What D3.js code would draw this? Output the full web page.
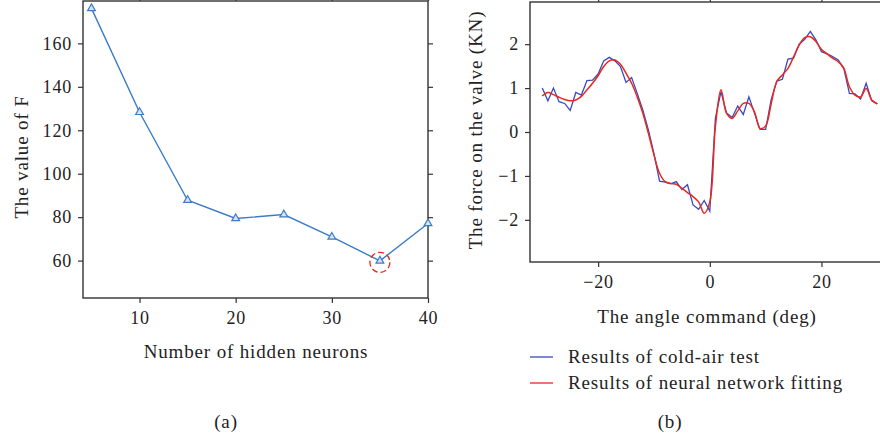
<!DOCTYPE html>
<html>
<head>
<meta charset="utf-8">
<script src="https://cdn.jsdelivr.net/npm/d3@7"></script>
<style>
    body { margin: 0; background: #fff; }
    .frame { fill: none; stroke: #333; stroke-width: 1.4; }
    .tick line { stroke: #333; stroke-width: 1.2; }
    .domain { display: none; }
</style>
</head>
<body>
<svg id="chart" width="880" height="440"></svg>
<script>
// (a) number of hidden neurons vs value of F
var neurons = [5, 10, 15, 20, 25, 30, 35, 40];
var fValues = [176.1, 128.3, 87.8, 79.4, 81.2, 70.9, 59.9, 77.1];
var neuronTicks = [10, 20, 30, 40];
var fTicks = [60, 80, 100, 120, 140, 160];

// (b) force on the valve vs angle command
var angles = d3.range(-30, 31); // -30 ... 30 deg, one sample per degree
var coldAir = [1.00, 0.71, 1.00, 0.69, 0.65, 0.49, 0.90, 0.84, 1.17, 1.18,
               1.32, 1.62, 1.70, 1.62, 1.49, 1.13, 1.24, 0.88, 0.50, 0.05,
               -0.49, -1.12, -1.14, -1.18, -1.13, -1.31, -1.20, -1.66, -1.76, -1.56,
               -1.80, 0.31, 0.92, 0.43, 0.33, 0.59, 0.40, 0.80, 0.43, 0.06,
               0.06, 0.74, 1.16, 1.20, 1.66, 1.68, 2.00, 2.11, 2.29, 2.10,
               1.83, 1.78, 1.72, 1.64, 1.45, 0.88, 0.87, 0.75, 1.11, 0.71,
               0.64];
var nnFit = [0.82, 0.90, 0.85, 0.79, 0.74, 0.71, 0.73, 0.81, 0.96, 1.11,
             1.28, 1.49, 1.62, 1.64, 1.54, 1.34, 1.11, 0.80, 0.43, -0.03,
             -0.52, -0.94, -1.13, -1.17, -1.19, -1.28, -1.38, -1.47, -1.59, -1.85,
             -1.59, 0.12, 0.96, 0.43, 0.31, 0.48, 0.65, 0.65, 0.46, 0.08,
             0.14, 0.65, 1.15, 1.30, 1.45, 1.71, 1.98, 2.15, 2.17, 2.06,
             1.88, 1.78, 1.68, 1.60, 1.45, 1.03, 0.84, 0.80, 0.99, 0.73,
             0.64];
var angleTicks = [-20, 0, 20];
var forceTicks = [-2, -1, 0, 1, 2];
var legendNames = ["Results of cold-air test", "Results of neural network fitting"];
var legendColors = ["#3b48c0", "#e8281e"];

var svg = d3.select("#chart");
var fmt = function(d){ return d < 0 ? "\u2212" + Math.abs(d) : "" + d; };

/**
 * Draws the frame with outward ticks on all four sides
 */
function drawFrame(g, x, y, xTicks, yTicks){
    var x0 = x.range()[0], x1 = x.range()[1];
    var y0 = y.range()[0], y1 = y.range()[1];

    g.append("g").attr("class", "ticklabels").attr("transform", "translate(0," + y0 + ")")
        .call(d3.axisBottom(x).tickValues(xTicks).tickSize(5).tickPadding(8).tickFormat(fmt));
    g.append("g").attr("transform", "translate(0," + y1 + ")")
        .call(d3.axisTop(x).tickValues(xTicks).tickSize(5).tickFormat(""));
    g.append("g").attr("class", "ticklabels").attr("transform", "translate(" + x0 + ",0)")
        .call(d3.axisLeft(y).tickValues(yTicks).tickSize(5).tickPadding(6).tickFormat(fmt));
    g.append("g").attr("transform", "translate(" + x1 + ",0)")
        .call(d3.axisRight(y).tickValues(yTicks).tickSize(5).tickFormat(""));

    g.append("rect").attr("class", "frame")
        .attr("x", x0).attr("y", y1)
        .attr("width", x1 - x0).attr("height", y0 - y1);
}

// ---------- chart (a) ----------
var xa = d3.scaleLinear().domain([4.12, 40]).range([83, 428]);
var ya = d3.scaleLinear().domain([42.8, 179.5]).range([298, 1]);
var ga = svg.append("g");
drawFrame(ga, xa, ya, neuronTicks, fTicks);

var lineA = d3.line().x(function(d, i){ return xa(neurons[i]); }).y(function(d){ return ya(d); });
ga.append("path").datum(fValues).attr("d", lineA)
    .attr("fill", "none").attr("stroke", "#3a7cc8").attr("stroke-width", 1.4);

ga.selectAll(".marker").data(fValues).enter().append("path")
    .attr("class", "marker")
    .attr("d", d3.symbol().type(d3.symbolTriangle).size(26))
    .attr("transform", function(d, i){ return "translate(" + xa(neurons[i]) + "," + ya(d) + ")"; })
    .attr("fill", "#d6e4f5").attr("stroke", "#3a7cc8").attr("stroke-width", 1.2);

// minimum highlighted by a dashed circle
var minIdx = d3.minIndex(fValues);
ga.append("circle")
    .attr("cx", xa(neurons[minIdx])).attr("cy", ya(fValues[minIdx]) + 1.5).attr("r", 10)
    .attr("fill", "none").attr("stroke", "#e8281e").attr("stroke-width", 1.3)
    .attr("stroke-dasharray", "6,3");

ga.append("text").attr("class", "label").text("The value of F")
    .attr("transform", "translate(28,157) rotate(-90)").attr("text-anchor", "middle");
ga.append("text").attr("class", "label").text("Number of hidden neurons")
    .attr("x", 256).attr("y", 358).attr("text-anchor", "middle");
ga.append("text").attr("class", "label").text("(a)")
    .attr("x", 226).attr("y", 428).attr("text-anchor", "middle");

// ---------- chart (b) ----------
var xb = d3.scaleLinear().domain([-32.2, 32.2]).range([530, 889.6]);
var yb = d3.scaleLinear().domain([-2.96, 2.96]).range([262, 2]);
var gb = svg.append("g");
drawFrame(gb, xb, yb, angleTicks, forceTicks);

var lineB = d3.line().x(function(d, i){ return xb(angles[i]); }).y(function(d){ return yb(d); });
gb.append("path").datum(coldAir).attr("d", lineB)
    .attr("fill", "none").attr("stroke", legendColors[0]).attr("stroke-width", 1.3);
gb.append("path").datum(nnFit).attr("d", lineB.curve(d3.curveCatmullRom.alpha(0.5)))
    .attr("fill", "none").attr("stroke", legendColors[1]).attr("stroke-width", 1.5);

gb.append("text").attr("class", "label").text("The force on the valve (KN)")
    .attr("transform", "translate(482,130) rotate(-90)").attr("text-anchor", "middle");
gb.append("text").attr("class", "label").text("The angle command (deg)")
    .attr("x", 707).attr("y", 323).attr("text-anchor", "middle");

var legend = gb.selectAll(".legend").data(legendNames).enter().append("g")
    .attr("class", "legend")
    .attr("transform", function(d, i){ return "translate(530," + (357 + i * 26) + ")"; });
legend.append("line").attr("x1", 0).attr("x2", 23)
    .attr("stroke", function(d, i){ return legendColors[i]; }).attr("stroke-width", 1.3);
legend.append("text").attr("class", "label").text(function(d){ return d; })
    .attr("x", 38).attr("y", 6);

gb.append("text").attr("class", "label").text("(b)")
    .attr("x", 670).attr("y", 428).attr("text-anchor", "middle");

// serif text everywhere, set inline so the axis defaults do not win
svg.selectAll("text")
    .attr("font-family", null)
    .style("font-family", "'Liberation Serif'")
    .style("fill", "#222");
svg.selectAll("g").attr("font-family", null);
svg.selectAll(".label").style("font-size", "19px").style("letter-spacing", "0.85px");
svg.selectAll(".ticklabels text").style("font-size", "18px").style("letter-spacing", "0.8px");
</script>
</body>
</html>
